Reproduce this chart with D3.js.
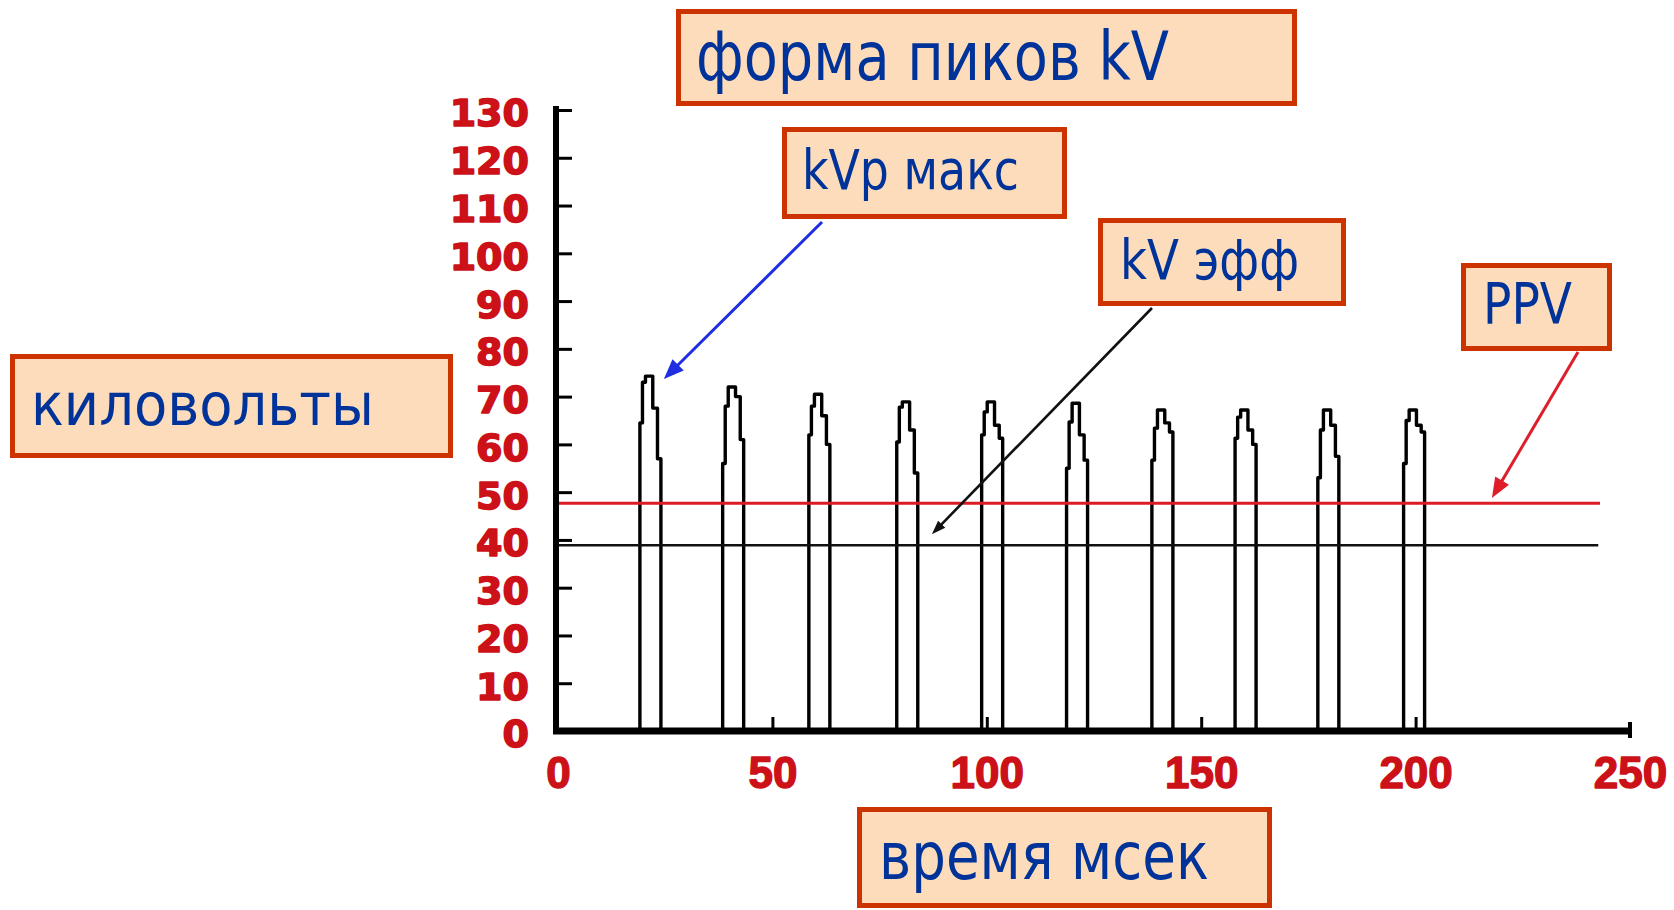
<!DOCTYPE html>
<html>
<head>
<meta charset="utf-8">
<script src="https://cdn.jsdelivr.net/npm/d3@7"></script>
<style>
  html, body { margin: 0; padding: 0; background: #ffffff; }
  svg { display: block; }
</style>
</head>
<body>
<svg id="chart" width="1674" height="910"></svg>
<script>
// ---------- data ----------
const xTickValues = [0, 50, 100, 150, 200, 250];
const yTickValues = [0, 10, 20, 30, 40, 50, 60, 70, 80, 90, 100, 110, 120, 130];

// pulse centres (ms) and kV levels
const pulseCenters   = [21.5, 40.8, 60.9, 81.4, 101.2, 121.0, 140.9, 160.3, 179.6, 199.6];
const pulsePeak      = [74.3, 72.0, 70.5, 68.9, 68.9, 68.6, 67.2, 67.2, 67.2, 67.2];
const pulseLeftLow   = [64.5, 56.0, 62.0, 60.5, 62.0, 55.0, 56.7, 61.3, 53.0, 56.0];
const pulseLeftHigh  = [73.0, 68.0, 68.0, 67.8, 66.8, 64.7, 63.4, 65.7, 63.0, 65.0];
const pulseRightHigh = [67.6, 70.0, 66.0, 63.0, 64.0, 62.0, 64.5, 63.0, 64.0, 64.0];
const pulseRightLow  = [57.0, 61.0, 60.0, 54.0, 61.3, 56.7, 62.6, 60.0, 57.5, 62.6];

const ppvKV = 47.7;      // PPV level
const effKV = 38.9;      // effective kV level
const levelLineEnd = [243.0, 242.6]; // ms where PPV / eff lines end

const titleText = "форма пиков kV";
const yLabelText = "киловольты";
const xLabelText = "время мсек";
const kvpText = "kVp макс";
const effText = "kV эфф";
const ppvText = "PPV";

// ---------- scales ----------
const svg = d3.select("#chart");
const x = d3.scaleLinear().domain([0, 250]).range([558, 1630]);
const y = d3.scaleLinear().domain([0, 130]).range([731, 110]);

// ---------- pulses ----------
const off = { L: -2.4, s1: -1.8, tL: -1.1, tR: 0.6, r2: 1.7, R: 2.5 };
const pulses = pulseCenters.map((c, i) => {
  const a = pulseLeftLow[i], b = pulseLeftHigh[i], p = pulsePeak[i];
  const rc = pulseRightHigh[i], rd = pulseRightLow[i];
  return [
    [c + off.L, 0], [c + off.L, a], [c + off.s1, a], [c + off.s1, b],
    [c + off.tL, b], [c + off.tL, p], [c + off.tR, p], [c + off.tR, rc],
    [c + off.r2, rc], [c + off.r2, rd], [c + off.R, rd], [c + off.R, 0]
  ];
});
const line = d3.line().x(d => x(d[0])).y(d => y(d[1]));
svg.append("g").selectAll("path").data(pulses).join("path")
  .attr("d", line)
  .attr("fill", "none")
  .attr("stroke", "#000")
  .attr("stroke-width", 3.4)
  .attr("stroke-linejoin", "round");

// ---------- level lines ----------
svg.append("line")
  .attr("x1", x(0)).attr("x2", x(levelLineEnd[1]))
  .attr("y1", y(effKV)).attr("y2", y(effKV))
  .attr("stroke", "#111").attr("stroke-width", 2.6);
svg.append("line")
  .attr("x1", x(0)).attr("x2", x(levelLineEnd[0]))
  .attr("y1", y(ppvKV)).attr("y2", y(ppvKV))
  .attr("stroke", "#dc1c24").attr("stroke-width", 3);

// ---------- axes ----------
const yAxis = d3.axisLeft(y).tickValues(yTickValues).tickSize(-16).tickPadding(27).tickFormat(d3.format("d"));
const gy = svg.append("g").attr("transform", `translate(${x(0) - 2},0)`).call(yAxis);
gy.select(".domain").remove();
gy.selectAll(".tick line").attr("stroke", "#000").attr("stroke-width", 3);
gy.selectAll(".tick text")
  .attr("fill", "#cc1118")
  .attr("stroke", "#cc1118")
  .attr("stroke-width", 1.6)
  .attr("stroke-linejoin", "round")
  .attr("font-family", "'DejaVu Sans', sans-serif")
  .attr("font-weight", "bold")
  .attr("font-size", 38)
  .attr("dy", "0.42em");

const xAxis = d3.axisBottom(x).tickValues(xTickValues).tickSize(-14).tickPadding(0).tickFormat(d3.format("d"));
const gx = svg.append("g").attr("transform", `translate(0,${y(0)})`).call(xAxis);
gx.select(".domain").remove();
gx.selectAll(".tick line").attr("stroke", "#000").attr("stroke-width", 3)
  .filter(d => d === 0 || d === 250).remove();
gx.selectAll(".tick text")
  .attr("fill", "#cc1118")
  .attr("stroke", "#cc1118")
  .attr("stroke-width", 1.4)
  .attr("stroke-linejoin", "round")
  .attr("font-family", "'Liberation Sans Narrow', 'Liberation Sans', Arial, sans-serif")
  .attr("font-weight", "bold")
  .attr("font-size", 44)
  .attr("y", 57)
  .attr("dy", null);

// main axis lines
svg.append("line")
  .attr("x1", x(0) - 2).attr("x2", x(0) - 2)
  .attr("y1", y(130) - 4).attr("y2", y(0) + 3)
  .attr("stroke", "#000").attr("stroke-width", 6);
svg.append("line")
  .attr("x1", x(0) - 5).attr("x2", x(250))
  .attr("y1", y(0)).attr("y2", y(0))
  .attr("stroke", "#000").attr("stroke-width", 7);
svg.append("line")
  .attr("x1", x(250)).attr("x2", x(250))
  .attr("y1", y(0) - 9).attr("y2", y(0) + 7)
  .attr("stroke", "#000").attr("stroke-width", 4);

// ---------- arrows ----------
function arrow(sx, sy, tx, ty, color, width, headLen, headHalf) {
  const dx = tx - sx, dy = ty - sy, len = Math.hypot(dx, dy);
  const ux = dx / len, uy = dy / len;
  const bx = tx - ux * headLen, by = ty - uy * headLen;
  svg.append("line")
    .attr("x1", sx).attr("y1", sy).attr("x2", bx + ux * 2).attr("y2", by + uy * 2)
    .attr("stroke", color).attr("stroke-width", width);
  svg.append("polygon")
    .attr("points", [
      [tx, ty],
      [bx - uy * headHalf, by + ux * headHalf],
      [bx + uy * headHalf, by - ux * headHalf]
    ].map(p => p.join(",")).join(" "))
    .attr("fill", color);
}
arrow(822, 222, x(24.7), y(73.7), "#1e2ee0", 3, 20, 8);
arrow(1152, 308, x(87.2), y(41.2), "#111", 2.6, 14, 5);
arrow(1578, 352, x(217.8), y(48.8), "#de1f2b", 3, 20, 8);

// ---------- annotation boxes ----------
function box(x0, y0, x1, y1, text, tx, ty, fs, tw) {
  const g = svg.append("g");
  g.append("rect")
    .attr("x", x0 + 2.5).attr("y", y0 + 2.5)
    .attr("width", x1 - x0 - 5).attr("height", y1 - y0 - 5)
    .attr("fill", "#fddcbb")
    .attr("stroke", "#cc3300")
    .attr("stroke-width", 5);
  g.append("text")
    .attr("x", tx).attr("y", ty)
    .attr("font-family", "'DejaVu Sans Condensed', 'DejaVu Sans', sans-serif")
    .attr("font-size", fs)
    .attr("fill", "#003399")
    .attr("textLength", tw)
    .attr("lengthAdjust", "spacingAndGlyphs")
    .text(text);
}
box(676, 9, 1297, 106, titleText, 696, 80, 67, 473);
box(782, 127, 1067, 219, kvpText, 802, 189, 55, 217);
box(1098, 218, 1346, 306, effText, 1120, 279, 55, 179);
box(1461, 263, 1612, 351, ppvText, 1483, 324, 57, 89);
box(10, 354, 453, 458, yLabelText, 31, 425, 58, 343);
box(857, 807, 1272, 908, xLabelText, 879, 879, 65, 330);
</script>
</body>
</html>
